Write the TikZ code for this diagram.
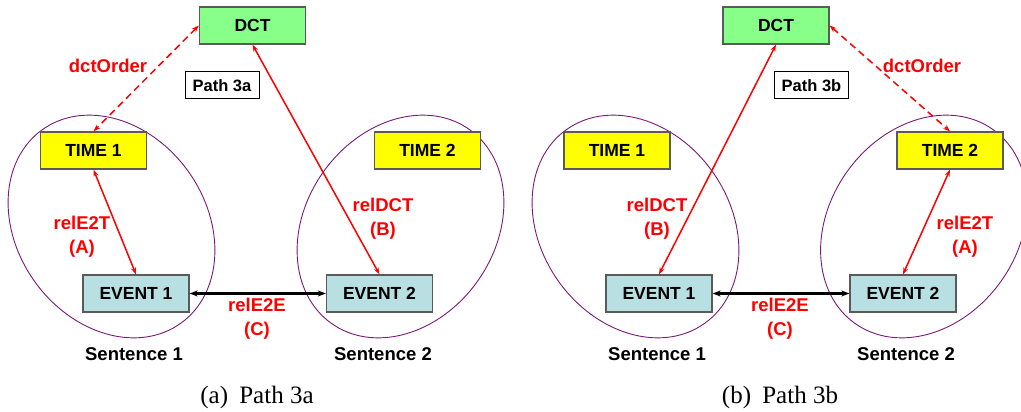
\documentclass[tikz,border=0pt]{standalone}
\usepackage{fontspec}
\setmainfont{Liberation Serif}
\setsansfont{Liberation Sans}
\usetikzlibrary{arrows.meta}

\definecolor{dctgreen}{HTML}{88FF88}
\definecolor{timeyellow}{HTML}{FFFF00}
\definecolor{eventblue}{HTML}{B8DFE1}
\definecolor{boxedge}{HTML}{5A5A5A}
\definecolor{sentpurple}{HTML}{7A1A7A}

\tikzset{
  box/.style={draw=boxedge, line width=1.3pt, minimum width=106pt, minimum height=37pt,
    inner sep=0pt, font=\sffamily\bfseries\fontsize{17.5}{20}\selectfont},
  dctbox/.style={box, fill=dctgreen},
  timebox/.style={box, fill=timeyellow},
  eventbox/.style={box, fill=eventblue},
  pathbox/.style={draw=black, line width=1pt, fill=white, minimum width=74pt, minimum height=27pt,
    inner sep=0pt, font=\sffamily\bfseries\fontsize{16.5}{19}\selectfont},
  sentence/.style={draw=sentpurple, line width=0.9pt},
  rellink/.style={draw=red, line width=1.5pt, {Stealth[length=7pt,width=5pt]}-{Stealth[length=7pt,width=5pt]}},
  dctlink/.style={rellink, dash pattern=on 7pt off 4.5pt},
  e2elink/.style={draw=black, line width=2.8pt, {Stealth[length=8pt,width=6pt]}-{Stealth[length=8pt,width=6pt]}},
  rellabel/.style={text=red, align=center, inner sep=0pt, font=\sffamily\bfseries\fontsize{18.5}{24}\selectfont},
  sentlabel/.style={text=black, inner sep=0pt, font=\sffamily\bfseries\fontsize{18.5}{22}\selectfont},
  caption/.style={text=black, inner sep=0pt, font=\rmfamily\fontsize{25}{28}\selectfont}
}

\begin{document}
\begin{tikzpicture}[x=1pt, y=-1pt]
\useasboundingbox (0,0) rectangle (1021,412);

% ---------- (a) Path 3a ----------
\draw[sentence, rotate around={-54.5:(111.5,226.5)}] (111.5,226.5) ellipse [x radius=119, y radius=94.5];
\draw[sentence, rotate around={54.5:(400.5,226.5)}] (400.5,226.5) ellipse [x radius=119, y radius=94.5];

\node[dctbox]   (a-dct)  at (252.5,25.5)  {DCT};
\node[pathbox]  (a-path) at (222,85.5)    {Path 3a};
\node[timebox]  (a-t1)   at (93.5,150.5)  {TIME 1};
\node[timebox]  (a-t2)   at (427.5,150.5) {TIME 2};
\node[eventbox] (a-e1)   at (136,293.5)   {EVENT 1};
\node[eventbox] (a-e2)   at (379.5,293.5) {EVENT 2};

\draw[dctlink] (a-dct.west) -- (a-t1.north);
\draw[rellink] (a-dct.south) -- (a-e2.north);
\draw[rellink] (a-t1.south) -- (a-e1.north);
\draw[e2elink] (a-e1.east) -- (a-e2.west);

\node[rellabel] (a-lorder) at (108,66)    {dctOrder};
\node[rellabel] (a-le2t)   at (82,237)    {relE2T\\(A)};
\node[rellabel] (a-ldct)   at (383,218.5) {relDCT\\(B)};
\node[rellabel] (a-le2e)   at (257,319)   {relE2E\\(C)};

\node[sentlabel] (a-s1) at (134,354) {Sentence 1};
\node[sentlabel] (a-s2) at (383,354) {Sentence 2};
\node[caption]   (a-cap) at (257,397) {(a)\hspace{0.45em}Path 3a};

% ---------- (b) Path 3b ----------
\draw[sentence, rotate around={-54.5:(635.5,226.5)}] (635.5,226.5) ellipse [x radius=119, y radius=94.5];
\draw[sentence, rotate around={54.5:(924,226.5)}] (924,226.5) ellipse [x radius=119, y radius=94.5];

\node[dctbox]   (b-dct)  at (776,25.5)    {DCT};
\node[pathbox]  (b-path) at (811.5,85.5)  {Path 3b};
\node[timebox]  (b-t1)   at (617,150.5)   {TIME 1};
\node[timebox]  (b-t2)   at (950,150.5)   {TIME 2};
\node[eventbox] (b-e1)   at (659,293.5)   {EVENT 1};
\node[eventbox] (b-e2)   at (903,293.5)   {EVENT 2};

\draw[dctlink] (b-dct.east) -- (b-t2.north);
\draw[rellink] (b-dct.south) -- (b-e1.north);
\draw[rellink] (b-t2.south) -- (b-e2.north);
\draw[e2elink] (b-e1.east) -- (b-e2.west);

\node[rellabel] (b-lorder) at (922,66)    {dctOrder};
\node[rellabel] (b-le2t)   at (965,237)   {relE2T\\(A)};
\node[rellabel] (b-ldct)   at (657,218.5) {relDCT\\(B)};
\node[rellabel] (b-le2e)   at (780,319)   {relE2E\\(C)};

\node[sentlabel] (b-s1) at (657,354) {Sentence 1};
\node[sentlabel] (b-s2) at (906,354) {Sentence 2};
\node[caption]   (b-cap) at (780,397) {(b)\hspace{0.45em}Path 3b};
\end{tikzpicture}
\end{document}
